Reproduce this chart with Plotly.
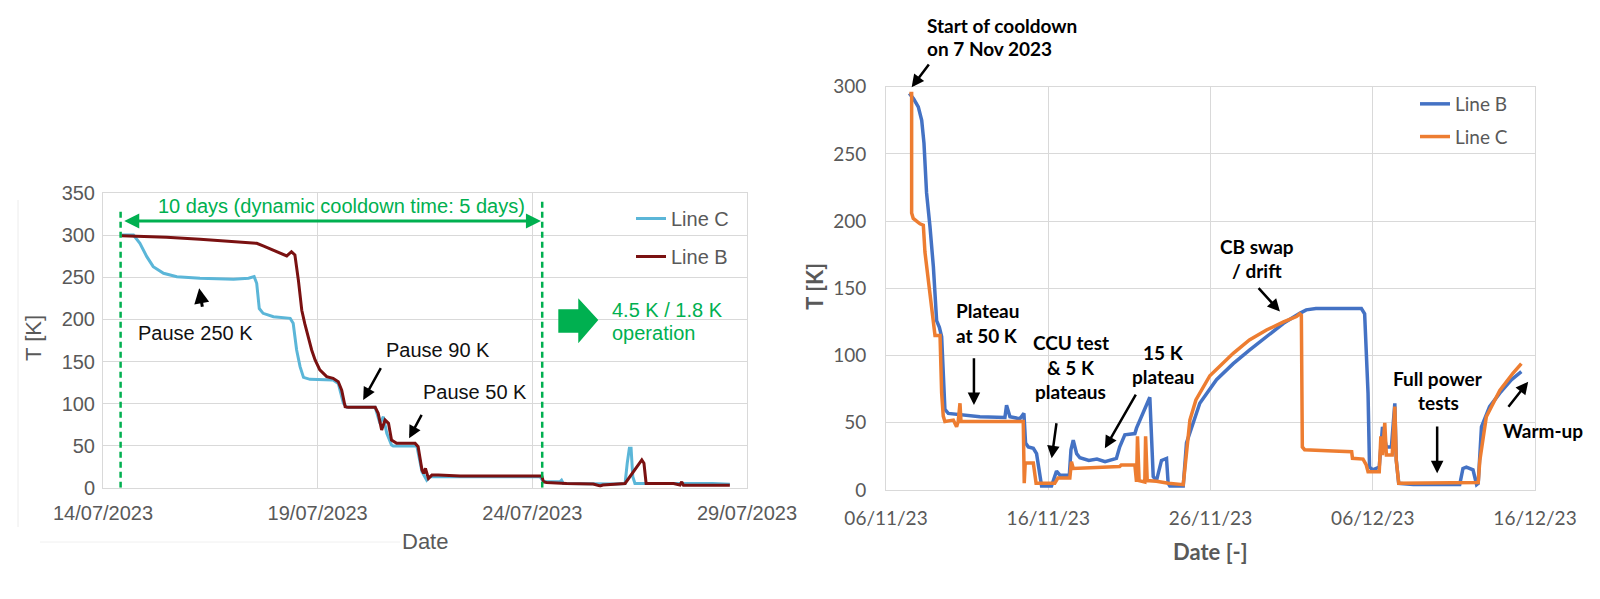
import pandas as pd
import plotly.graph_objects as go

W, H = 1600, 599

# ---------------- Left panel: days after 14/07/2023 00:00, temperature in K
LEFT_BASE = "2023-07-14"
lc_days = [0.43, 0.71, 0.86, 1.02, 1.17, 1.41, 1.72, 2.26, 3.04, 3.39, 3.52, 3.58, 3.64, 3.73,
           3.97, 4.36, 4.43, 4.51, 4.59, 4.67, 4.82, 5.36, 5.48, 5.60, 5.68, 6.34, 6.45, 6.53,
           6.61, 6.72, 6.76, 7.31, 7.43, 7.54, 7.61, 8.39, 10.18, 10.26, 10.64, 10.68, 10.72,
           11.90, 12.16, 12.21, 12.26, 12.30, 12.34, 12.39, 13.44, 14.20, 14.60]
lc_temp = [300.4, 300.4, 290.5, 274.7, 262.8, 254.9, 250.9, 249, 247.7, 249, 250.9, 243, 213, 207.3,
           203.3, 201.3, 195.4, 163.7, 143.9, 131.2, 128.8, 128, 124, 100.3, 95.5, 95.5, 76.5, 84.4,
           64.6, 50.7, 49.5, 49.5, 19, 9, 13, 13, 13, 7, 7, 9, 5,
           4.4, 5, 29, 46.8, 46.8, 13, 5, 5, 5, 4]
lb_days = [0.43, 1.48, 2.26, 3.04, 3.58, 3.73, 4.04, 4.28, 4.39, 4.47, 4.55, 4.63, 4.70, 4.78,
           4.86, 4.94, 5.05, 5.21, 5.36, 5.48, 5.56, 5.64, 5.71, 6.34, 6.41, 6.49, 6.57, 6.65,
           6.72, 6.84, 7.27, 7.34, 7.43, 7.47, 7.51, 7.58, 7.66, 7.81, 8.32, 9.99, 10.22, 10.26,
           10.33, 10.80, 11.42, 11.58, 11.64, 12.16, 12.35, 12.55, 12.60, 12.65, 13.29, 13.44,
           13.48, 13.52, 14.20, 14.60]
lb_temp = [299.6, 297.7, 295.3, 292.9, 290.5, 287.4, 280.6, 275.5, 280.6, 276.7, 247, 211, 195, 179.5,
           163.7, 151.8, 140, 132, 130, 126, 116, 96.3, 95.5, 95.5, 88.4, 68.6, 80.5, 76.5,
           56.7, 52.7, 52.7, 48.8, 21, 17, 23, 11, 15, 15, 13.9, 13.9, 13.9, 7,
           6.3, 5, 4.4, 2, 3.2, 5, 19, 33, 29, 5, 5, 3.2,
           7, 3, 3, 3]
left_ticks = ["2023-07-14", "2023-07-19", "2023-07-24", "2023-07-29"]

# ---------------- Right panel: days after 06/11/2023 00:00, temperature in K
RIGHT_BASE = "2023-11-06"
rb_days = [1.44, 1.70, 1.99, 2.20, 2.34, 2.50, 2.71, 2.92, 3.12, 3.29, 3.43, 3.53, 3.63, 3.84,
           4.56, 5.79, 7.33, 7.43, 7.64, 8.25, 8.50, 8.60, 8.77, 9.08, 9.28, 9.49, 9.59, 10.20,
           10.41, 10.51, 10.72, 11.30, 11.40, 11.54, 11.75, 11.95, 12.5, 13.0, 13.5, 14.2, 14.40,
           14.72, 15.34, 15.44, 16.26, 16.47, 16.67, 16.98, 17.29, 17.39, 17.49, 18.32, 18.52,
           18.93, 19.34, 20.37, 21.4, 22.4, 23.45, 24.5, 25.5, 25.9, 26.5, 27.6, 28.4, 28.8, 29.3,
           29.5, 29.71, 29.8, 30.0, 30.4, 30.5, 30.6, 30.84, 31.15, 31.36, 31.45, 31.6, 32.5,
           35.36, 35.56, 35.77, 36.18, 36.4, 36.5, 36.7, 37.2, 37.83, 38.54, 39.16]
rb_temp = [295, 291, 285, 275, 258, 221, 196, 166, 126, 121, 114, 84, 60, 57,
           56, 54.5, 54, 63, 54.5, 53, 57, 35, 32, 31, 27, 9, 3, 3,
           12, 14, 11, 11, 30, 37, 27, 24, 22, 23, 21, 23.5, 32,
           41, 42, 46, 69, 10, 7, 22, 23.5, 5, 3, 3, 35,
           50, 64.5, 82, 94, 104, 114, 124, 131.4, 134, 135, 135, 134.5, 135, 135,
           131, 72, 17, 15, 17, 37, 47, 32, 32, 64.5, 22, 5, 4,
           4, 16, 17, 15, 4, 5, 47, 62, 72, 82, 88]
rc_days = [1.44, 1.58, 1.58, 1.68, 2.09, 2.30, 2.40, 2.71, 2.92, 3.02, 3.33, 3.43, 3.53, 3.63,
           4.15, 4.35, 4.45, 4.56, 4.62, 8.46, 8.52, 8.58, 9.08, 9.25, 10.4, 10.6, 11.33, 11.43,
           11.54, 14.4, 14.5, 15.34, 15.44, 15.5, 15.6, 15.95, 16.0, 16.1, 16.67, 17.4, 18.32,
           18.5, 18.73, 19.1, 19.55, 19.96, 20.57, 21.4, 22.4, 23.45, 24.5, 25.3, 25.5, 25.6,
           25.66, 25.8, 27.56, 28.7, 28.75, 29.4, 29.6, 29.71, 30.4, 30.5, 30.6, 30.74, 30.84,
           31.2, 31.36, 31.45, 31.6, 33.7, 36.5, 36.6, 37.0, 37.83, 38.65, 39.16]
rc_temp = [295, 295, 206, 202, 198, 197, 177, 146, 121, 115, 115, 72, 55, 51,
           52, 47, 51, 64.5, 51, 51, 5, 20, 20, 5, 5, 9, 9, 21,
           16, 17.4, 18.6, 18.6, 6, 40, 7, 6, 40, 7, 6.5, 5, 4,
           25, 52, 67, 77, 85, 92, 101.7, 111.6, 119, 125, 129, 131, 130,
           32, 30, 29, 28.5, 23.6, 23, 18.6, 13.6, 13.6, 40, 26, 50, 26,
           26, 62, 22, 5, 5, 5.5, 22, 54.5, 74, 87, 94]
right_ticks = ["2023-11-06", "2023-11-16", "2023-11-26", "2023-12-06", "2023-12-16"]


def to_dates(base, days):
    return pd.Timestamp(base) + pd.to_timedelta(pd.Series(days, dtype=float), unit="D")


def dstr(base, d):
    return (pd.Timestamp(base) + pd.Timedelta(days=d)).strftime("%Y-%m-%d %H:%M:%S")


def px(x):
    return x / W


def py(y):
    return 1 - y / H


# plot-area geometry (pixels)
L_X0, L_X1, L_Y0, L_Y1 = 103, 747, 193.3, 487.7
R_X0, R_X1, R_Y0, R_Y1 = 886, 1535, 86.7, 490

GRID = "#d9d9d9"
TXT = "#595959"
GREEN = "#00b050"
ARIAL = "Liberation Sans, Arial, sans-serif"
CAL = "Lato, Carlito, Calibri, sans-serif"

fig = go.Figure()
fig.add_trace(go.Scatter(x=to_dates(LEFT_BASE, lc_days), y=lc_temp, mode="lines", name="Line C",
                         line=dict(color="#5bb6d8", width=3), xaxis="x", yaxis="y",
                         legend="legend", legendgroup="lc"))
fig.add_trace(go.Scatter(x=to_dates(LEFT_BASE, lb_days), y=lb_temp, mode="lines", name="Line B",
                         line=dict(color="#7a1111", width=3), xaxis="x", yaxis="y",
                         legend="legend", legendgroup="lb"))
fig.add_trace(go.Scatter(x=to_dates(RIGHT_BASE, rb_days), y=rb_temp, mode="lines", name="Line B",
                         line=dict(color="#4472c4", width=3.5), xaxis="x2", yaxis="y2",
                         legend="legend2", legendgroup="rb"))
fig.add_trace(go.Scatter(x=to_dates(RIGHT_BASE, rc_days), y=rc_temp, mode="lines", name="Line C",
                         line=dict(color="#ed7d31", width=3.5), xaxis="x2", yaxis="y2",
                         legend="legend2", legendgroup="rc"))

axis_common = dict(showgrid=True, gridcolor=GRID, gridwidth=1, showline=True, linecolor=GRID,
                   linewidth=1, mirror=True, ticks="", zeroline=False, fixedrange=True,
                   automargin=False)

fig.update_layout(
    template="none",
    width=W, height=H, margin=dict(l=0, r=0, t=0, b=0, pad=0, autoexpand=False), autosize=False,
    paper_bgcolor="white", plot_bgcolor="white", showlegend=True,
    xaxis=dict(axis_common, domain=[px(L_X0), px(L_X1)], anchor="y", type="date",
               range=[left_ticks[0], left_ticks[-1]], tickvals=left_ticks, tickformat="%d/%m/%Y",
               tickfont=dict(family=ARIAL, size=20, color=TXT), ticklabelstandoff=7),
    yaxis=dict(axis_common, domain=[py(L_Y1), py(L_Y0)], anchor="x", range=[0, 350], dtick=50,
               tickfont=dict(family=ARIAL, size=20, color=TXT), ticklabelstandoff=3),
    xaxis2=dict(axis_common, domain=[px(R_X0), px(R_X1)], anchor="y2", type="date",
                range=[right_ticks[0], right_ticks[-1]], tickvals=right_ticks, tickformat="%d/%m/%y",
                tickfont=dict(family=CAL, size=19, color=TXT), ticklabelstandoff=11),
    yaxis2=dict(axis_common, domain=[py(R_Y1), py(R_Y0)], anchor="x2", range=[0, 300], dtick=50,
                tickfont=dict(family=CAL, size=19, color=TXT), ticklabelstandoff=15),
    legend=dict(x=px(631), y=py(199), xanchor="left", yanchor="top", bgcolor="rgba(0,0,0,0)",
                font=dict(family=ARIAL, size=20, color=TXT), tracegroupgap=9, traceorder="grouped"),
    legend2=dict(x=px(1415), y=py(85), xanchor="left", yanchor="top", bgcolor="rgba(0,0,0,0)",
                 font=dict(family=CAL, size=19, color=TXT), tracegroupgap=5, traceorder="grouped"),
)

ann = []


def text_px(s, x, y, font, xanchor="center", color="black", size=20, angle=0, weight="normal"):
    ann.append(dict(text=s, x=px(x), y=py(y), xref="paper", yref="paper", showarrow=False,
                    xanchor=xanchor, yanchor="middle", textangle=angle,
                    font=dict(family=font, size=size, color=color, weight=weight)))


def arrow(base, axn, d_tail, t_tail, d_tip, t_tip, color="black", width=2.5, size=1.0):
    ann.append(dict(x=dstr(base, d_tip), y=t_tip, ax=dstr(base, d_tail), ay=t_tail,
                    xref="x" + axn, yref="y" + axn, axref="x" + axn, ayref="y" + axn,
                    text="", showarrow=True, arrowhead=2, arrowsize=size, arrowwidth=width,
                    arrowcolor=color, standoff=0, startstandoff=0))


# ----- left panel texts
text_px("T [K]", 33, 338, ARIAL, color=TXT, size=22, angle=-90)
text_px("Date", 425, 541, ARIAL, color=TXT, size=22)
text_px("10 days (dynamic cooldown time: 5 days)", 341, 206, ARIAL, color=GREEN, size=20)
text_px("4.5 K / 1.8 K", 610, 310, ARIAL, xanchor="left", color=GREEN, size=20)
text_px("operation", 610, 333.3, ARIAL, xanchor="left", color=GREEN, size=20)
text_px("Pause 250 K", 195, 332.7, ARIAL, size=20, color="#111111")
text_px("Pause 90 K", 438.3, 350, ARIAL, size=20, color="#111111")
text_px("Pause 50 K", 475, 391.7, ARIAL, size=20, color="#111111")
arrow(LEFT_BASE, "", 2.32, 213.3, 2.24, 237, width=3, size=1.0)
arrow(LEFT_BASE, "", 6.49, 143.9, 6.06, 104.3, width=2.5)
arrow(LEFT_BASE, "", 7.44, 88.4, 7.13, 58.7, width=2.5)
# double-headed green arrow
ann.append(dict(x=dstr(LEFT_BASE, 10.20), y=317, ax=dstr(LEFT_BASE, 0.46), ay=317,
                xref="x", yref="y", axref="x", ayref="y", text="", showarrow=True,
                arrowhead=2, startarrowhead=2, arrowside="end+start", arrowsize=1.0,
                startarrowsize=1.0, arrowwidth=3, arrowcolor=GREEN, standoff=0, startstandoff=0))

# ----- right panel texts
text_px("<b>T [K]</b>", 815, 286.7, CAL, color=TXT, size=22, angle=-90)
text_px("<b>Date [-]</b>", 1210.7, 551.7, CAL, color=TXT, size=22)
B = dict(font=CAL, size=19, weight="bold")
text_px("Start of cooldown", 925, 25, xanchor="left", **B)
text_px("on 7 Nov 2023", 925, 48.3, xanchor="left", **B)
text_px("Plateau", 954, 310.7, xanchor="left", **B)
text_px("at 50 K", 954, 335, xanchor="left", **B)
text_px("CCU test", 1070.7, 342.7, **B)
text_px("&amp; 5 K", 1070.7, 367.3, **B)
text_px("plateaus", 1070.7, 391.7, **B)
text_px("15 K", 1163.3, 352.3, **B)
text_px("plateau", 1163.3, 376.7, **B)
text_px("CB swap", 1257.3, 246, **B)
text_px("/ drift", 1257.3, 270, **B)
text_px("Full power", 1438.3, 378.3, **B)
text_px("tests", 1438.3, 402.7, **B)
text_px("Warm-up", 1543.3, 430.7, **B)
arrow(RIGHT_BASE, "2", 2.71, 317.7, 1.58, 299.5)
arrow(RIGHT_BASE, "2", 5.42, 99.2, 5.42, 63.2)
arrow(RIGHT_BASE, "2", 10.52, 50.8, 10.21, 23.6)
arrow(RIGHT_BASE, "2", 15.45, 72, 13.49, 31)
arrow(RIGHT_BASE, "2", 22.88, 151.3, 24.28, 132.7)
arrow(RIGHT_BASE, "2", 33.97, 48.4, 33.97, 12.4)
arrow(RIGHT_BASE, "2", 38.29, 60.8, 39.58, 80.6)

fig.update_layout(annotations=ann)

# ----- shapes: green dashed markers, block arrow, faint frame of left chart
shapes = [
    dict(type="line", xref="x", yref="y", x0=dstr(LEFT_BASE, 0.41), x1=dstr(LEFT_BASE, 0.41),
         y0=0, y1=332, line=dict(color=GREEN, width=2.5, dash="6px,4px")),
    dict(type="line", xref="x", yref="y", x0=dstr(LEFT_BASE, 10.23), x1=dstr(LEFT_BASE, 10.23),
         y0=0, y1=340, line=dict(color=GREEN, width=2.5, dash="6px,4px")),
    dict(type="path", xref="x domain", yref="y domain",
         path="M0.707,0.606 L0.738,0.606 L0.738,0.6433 L0.7691,0.5696 L0.738,0.4905 "
              "L0.738,0.5265 L0.707,0.5265 Z",
         fillcolor=GREEN, line=dict(width=0)),
    dict(type="line", xref="paper", yref="paper", x0=px(18), x1=px(18), y0=py(200), y1=py(527),
         line=dict(color="#ececec", width=1)),
    dict(type="line", xref="paper", yref="paper", x0=px(40), x1=px(400), y0=py(542), y1=py(542),
         line=dict(color="#f0f0f0", width=1)),
]
fig.update_layout(shapes=shapes)

fig.write_html("out.html")
